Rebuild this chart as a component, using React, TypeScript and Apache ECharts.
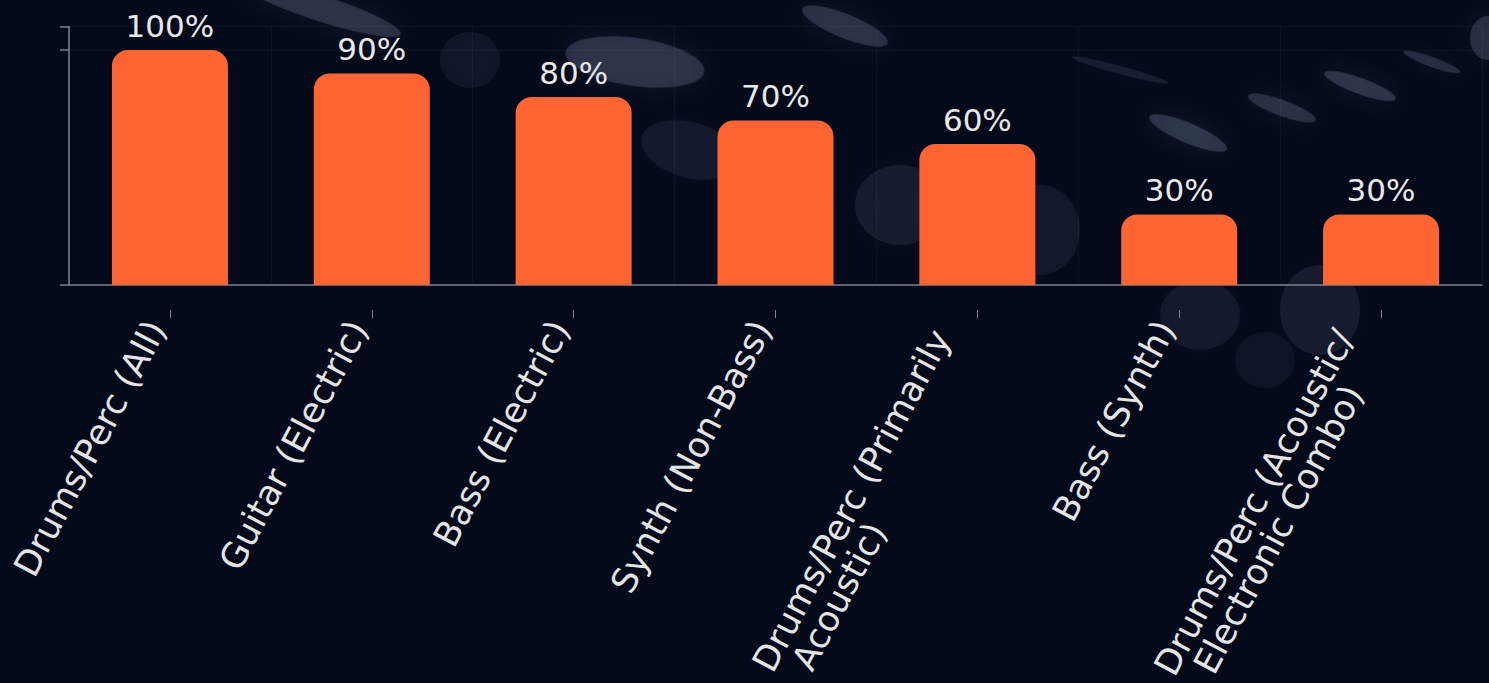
import React, { useEffect, useRef } from "react";
import * as echarts from "echarts";

const categories: string[] = [
  "Drums/Perc (All)",
  "Guitar (Electric)",
  "Bass (Electric)",
  "Synth (Non-Bass)",
  "Drums/Perc (Primarily\nAcoustic)",
  "Bass (Synth)",
  "Drums/Perc (Acoustic/\nElectronic Combo)",
];
const shares: number[] = [100, 90, 80, 70, 60, 30, 30];

// background blurred shapes: [cx, cy, rx, ry, rotationDeg, opacity]
const blobs: number[][] = [
  [320, 8, 85, 13, -18, 0.22],
  [470, 60, 30, 28, 0, 0.07],
  [635, 62, 70, 24, -8, 0.22],
  [845, 26, 46, 12, -22, 0.22],
  [690, 150, 50, 28, -15, 0.09],
  [900, 205, 45, 40, 0, 0.1],
  [1188, 133, 42, 10, -23, 0.24],
  [1282, 108, 36, 8, -20, 0.22],
  [1360, 86, 38, 8, -20, 0.24],
  [1432, 62, 30, 5, -20, 0.2],
  [1488, 38, 18, 22, 0, 0.2],
  [1040, 230, 40, 45, 0, 0.08],
  [1200, 315, 40, 35, 0, 0.09],
  [1320, 310, 40, 45, 0, 0.1],
  [1265, 360, 30, 28, 0, 0.06],
  [1120, 70, 50, 4, -15, 0.12],
];

export default function App() {
  const ref = useRef<HTMLDivElement>(null);
  useEffect(() => {
    document.body.style.margin = "0";
    const chart = echarts.init(ref.current!, null, { renderer: "svg" });
    const font = "DejaVu Sans";
    const labelSize = 35;
    const graphics = blobs.map(([cx, cy, rx, ry, rot, op]) => ({
      type: "ellipse",
      z: -10,
      silent: true,
      x: cx,
      y: cy,
      rotation: (rot * Math.PI) / 180,
      shape: { cx: 0, cy: 0, rx, ry },
      style: {
        fill: `rgba(160,170,200,${op})`,
        shadowBlur: 24,
        shadowColor: `rgba(160,170,200,${op * 1.5})`,
      },
    }));
    const lineStyle = {
      align: "left",
      color: "#e4e4e6",
      fontFamily: font,
      fontSize: labelSize,
      lineHeight: 36,
    };
    chart.setOption({
      animation: false,
      backgroundColor: "#050a1b",
      graphic: graphics,
      grid: {
        left: 69,
        right: 7,
        top: 26.5,
        bottom: 398,
        containLabel: false,
        outerBoundsMode: "none",
      },
      xAxis: [
        {
          type: "category",
          data: categories,
          boundaryGap: true,
          axisLine: { show: true, lineStyle: { color: "#7c808e", width: 1.5 } },
          axisTick: { show: false },
          axisLabel: { show: false },
          splitLine: { show: true, lineStyle: { color: "rgba(255,255,255,0.035)" } },
        },
        {
          type: "category",
          data: categories,
          position: "bottom",
          offset: 25,
          boundaryGap: true,
          axisLine: { show: false },
          axisTick: {
            show: true,
            alignWithLabel: true,
            length: 8,
            lineStyle: { color: "#7c808e", width: 1 },
          },
          axisLabel: {
            show: true,
            interval: 0,
            rotate: 62,
            margin: 20,
            padding: [0, 0, 30, 0],
            color: "#e4e4e6",
            fontFamily: font,
            fontSize: labelSize,
            formatter: (v: string) => {
              const lines = v.split("\n");
              if (lines.length === 1) return `{a|${lines[0]}}`;
              return lines
                .map((l, i) => (i === 0 ? `{f|${l}}` : `{s|${l}}`))
                .join("\n");
            },
            rich: {
              a: lineStyle,
              f: { ...lineStyle, padding: [0, 19, 0, 0] },
              s: { ...lineStyle, lineHeight: 32, padding: [0, 0, 0, 20] },
            },
          },
        },
      ],
      yAxis: {
        type: "value",
        min: 0,
        max: 110,
        interval: 100,
        axisLine: { show: true, lineStyle: { color: "#7c808e", width: 1.5 } },
        axisTick: { show: true, length: 9, lineStyle: { color: "#7c808e", width: 1.5 } },
        axisLabel: { show: false },
        splitLine: {
          show: true,
          lineStyle: { color: "rgba(255,255,255,0.035)" },
        },
      },
      series: [
        {
          type: "bar",
          data: shares,
          barWidth: 116,
          itemStyle: { color: "#fe6532", borderRadius: [16, 16, 0, 0] },
          label: {
            show: true,
            position: "top",
            distance: 9,
            formatter: (p: any) => `${p.value}%`,
            color: "#e8e8ea",
            fontFamily: font,
            fontSize: 31,
          },
        },
      ],
    });
    return () => chart.dispose();
  }, []);
  return (
    <div
      ref={ref}
      style={{ position: "absolute", left: 0, top: 0, width: 1489, height: 683 }}
    />
  );
}
